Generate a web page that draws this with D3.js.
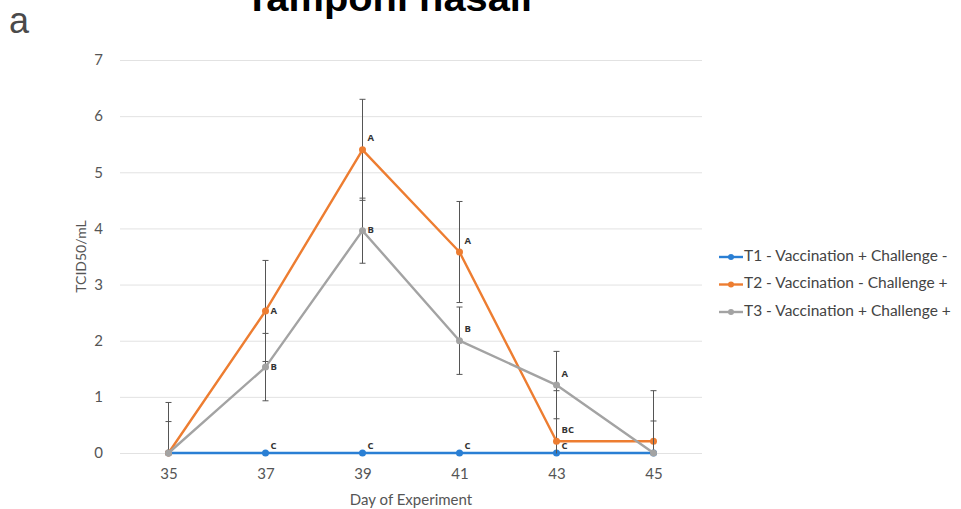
<!DOCTYPE html>
<html>
<head>
<meta charset="utf-8">
<script src="https://cdn.jsdelivr.net/npm/d3@7"></script>
<style>
  html, body { margin: 0; padding: 0; background: #fff; }
  svg { display: block; }
</style>
</head>
<body>
<svg id="chart" width="961" height="509"></svg>
<script>
// Nasal swab titres by day of experiment
const days = [35, 37, 39, 41, 43, 45];
const yTicks = [0, 1, 2, 3, 4, 5, 6, 7];

const seriesNames = [
  "T1 - Vaccination + Challenge -",
  "T2 - Vaccination - Challenge +",
  "T3 - Vaccination + Challenge +"
];
const seriesColors = ["#2a7fd4", "#ed7d31", "#a3a3a3"];

const t1Values = [0, 0, 0, 0, 0, 0];
const t2Values = [0, 2.53, 5.4, 3.58, 0.21, 0.21];
const t3Values = [0, 1.53, 3.96, 2.0, 1.21, 0];

const t1Errors = [0, 0, 0, 0, 0, 0];
const t2Errors = [0.9, 0.9, 0.9, 0.9, 0.9, 0.9];
const t3Errors = [0.56, 0.6, 0.58, 0.6, 0.6, 0.57];

// significance letters and where they sit next to the marker
// r = right, ur = upper right, lr = just above the line (low, right)
const t1Letters = ["", "C", "C", "C", "C", ""];
const t2Letters = ["", "A", "A", "A", "BC", ""];
const t3Letters = ["", "B", "B", "B", "A", ""];
const t1Place = ["", "lr", "lr", "lr", "lr", ""];
const t2Place = ["", "r", "ur", "ur", "ur", ""];
const t3Place = ["", "r", "r", "ur", "ur", ""];

const series = [
  { name: seriesNames[0], color: seriesColors[0], values: t1Values, errors: t1Errors, letters: t1Letters, place: t1Place },
  { name: seriesNames[1], color: seriesColors[1], values: t2Values, errors: t2Errors, letters: t2Letters, place: t2Place },
  { name: seriesNames[2], color: seriesColors[2], values: t3Values, errors: t3Errors, letters: t3Letters, place: t3Place }
];

const placeOffset = { r: [5, 0], ur: [5, -11], lr: [5, -7] };

const svg = d3.select("#chart");
const plot = { left: 120, right: 702, top: 60, bottom: 453 };

const x = d3.scalePoint().domain(days).range([plot.left, plot.right]).padding(0.5);
const y = d3.scaleLinear().domain([0, 7]).range([plot.bottom, plot.top]);

const uiFont = "Lato, 'Open Sans', sans-serif";

// panel letter and title
svg.append("text")
  .attr("x", 9).attr("y", 33)
  .attr("font-family", "'Liberation Sans', Arial, sans-serif")
  .attr("font-size", 36)
  .attr("fill", "#4a4a4a")
  .text("a");

svg.append("text")
  .attr("x", 245).attr("y", 11)
  .attr("font-family", "'Liberation Sans', Arial, sans-serif")
  .attr("font-weight", "bold")
  .attr("font-size", 37)
  .attr("textLength", 287)
  .attr("lengthAdjust", "spacingAndGlyphs")
  .attr("fill", "#000")
  .text("Tamponi nasali");

// horizontal gridlines
svg.append("g")
  .selectAll("line")
  .data(yTicks)
  .join("line")
  .attr("x1", plot.left).attr("x2", plot.right)
  .attr("y1", d => y(d) + 0.5).attr("y2", d => y(d) + 0.5)
  .attr("stroke", "#e2e2e2")
  .attr("stroke-width", 1);

// y axis
const yAxis = svg.append("g")
  .attr("transform", `translate(${plot.left},0)`)
  .call(d3.axisLeft(y).tickValues(yTicks).tickFormat(d3.format("d")).tickSize(0).tickPadding(17));
yAxis.select(".domain").remove();
yAxis.selectAll("text")
  .attr("font-family", uiFont).attr("font-size", 15).attr("fill", "#555");

// x axis
const xAxis = svg.append("g")
  .attr("transform", `translate(0,${plot.bottom})`)
  .call(d3.axisBottom(x).tickSize(0).tickPadding(15));
xAxis.select(".domain").remove();
xAxis.selectAll("text")
  .attr("font-family", uiFont).attr("font-size", 15).attr("fill", "#555");

// axis titles
svg.append("text")
  .attr("x", (plot.left + plot.right) / 2).attr("y", 505)
  .attr("text-anchor", "middle")
  .attr("font-family", uiFont).attr("font-size", 15).attr("fill", "#555")
  .text("Day of Experiment");

svg.append("text")
  .attr("transform", `translate(86,${(plot.top + plot.bottom) / 2}) rotate(-90)`)
  .attr("text-anchor", "middle")
  .attr("font-family", uiFont).attr("font-size", 14).attr("fill", "#555")
  .text("TCID50/mL");

// clip for error bars that run below zero
svg.append("defs").append("clipPath").attr("id", "plotClip")
  .append("rect")
  .attr("x", plot.left).attr("y", 0)
  .attr("width", plot.right - plot.left).attr("height", plot.bottom + 0.5);

const line = d3.line().x((d, i) => x(days[i])).y(d => y(d));

series.forEach(s => {
  const g = svg.append("g");

  // error bars
  const eb = g.append("g").attr("clip-path", "url(#plotClip)")
    .selectAll("g")
    .data(s.values.map((v, i) => ({ v, e: s.errors[i], day: days[i] })).filter(d => d.e > 0))
    .join("g");
  eb.append("line")
    .attr("x1", d => x(d.day)).attr("x2", d => x(d.day))
    .attr("y1", d => y(d.v - d.e)).attr("y2", d => y(d.v + d.e))
    .attr("stroke", "#555").attr("stroke-width", 1);
  [-1, 1].forEach(sign => {
    eb.append("line")
      .attr("x1", d => x(d.day) - 3).attr("x2", d => x(d.day) + 3)
      .attr("y1", d => y(d.v + sign * d.e)).attr("y2", d => y(d.v + sign * d.e))
      .attr("stroke", "#555").attr("stroke-width", 1);
  });

  // series line and markers
  g.append("path")
    .attr("d", line(s.values))
    .attr("fill", "none")
    .attr("stroke", s.color)
    .attr("stroke-width", 2.4)
    .attr("stroke-linejoin", "round");

  g.selectAll("circle")
    .data(s.values)
    .join("circle")
    .attr("cx", (d, i) => x(days[i]))
    .attr("cy", d => y(d))
    .attr("r", 3.5)
    .attr("fill", s.color);
});

// significance letters
series.forEach(s => {
  svg.append("g")
    .selectAll("text")
    .data(s.values.map((v, i) => ({ v, day: days[i], t: s.letters[i], p: s.place[i] })).filter(d => d.t))
    .join("text")
    .attr("x", d => x(d.day) + placeOffset[d.p][0])
    .attr("y", d => y(d.v) + placeOffset[d.p][1])
    .attr("dominant-baseline", "middle")
    .attr("font-family", "'Open Sans', sans-serif")
    .attr("font-weight", "bold")
    .attr("font-size", 9.5)
    .attr("fill", "#333")
    .text(d => d.t);
});

// legend
const legend = svg.append("g").attr("transform", "translate(719,257)");
const item = legend.selectAll("g")
  .data(series)
  .join("g")
  .attr("transform", (d, i) => `translate(0,${i * 27.5})`);
item.append("line")
  .attr("x1", 0).attr("x2", 24).attr("y1", 0).attr("y2", 0)
  .attr("stroke", d => d.color).attr("stroke-width", 2.4);
item.append("circle")
  .attr("cx", 12).attr("cy", 0).attr("r", 3)
  .attr("fill", d => d.color);
item.append("text")
  .attr("x", 25).attr("y", 0)
  .attr("dominant-baseline", "middle")
  .attr("font-family", uiFont).attr("font-size", 15.5).attr("fill", "#444")
  .text(d => d.name);
</script>
</body>
</html>
